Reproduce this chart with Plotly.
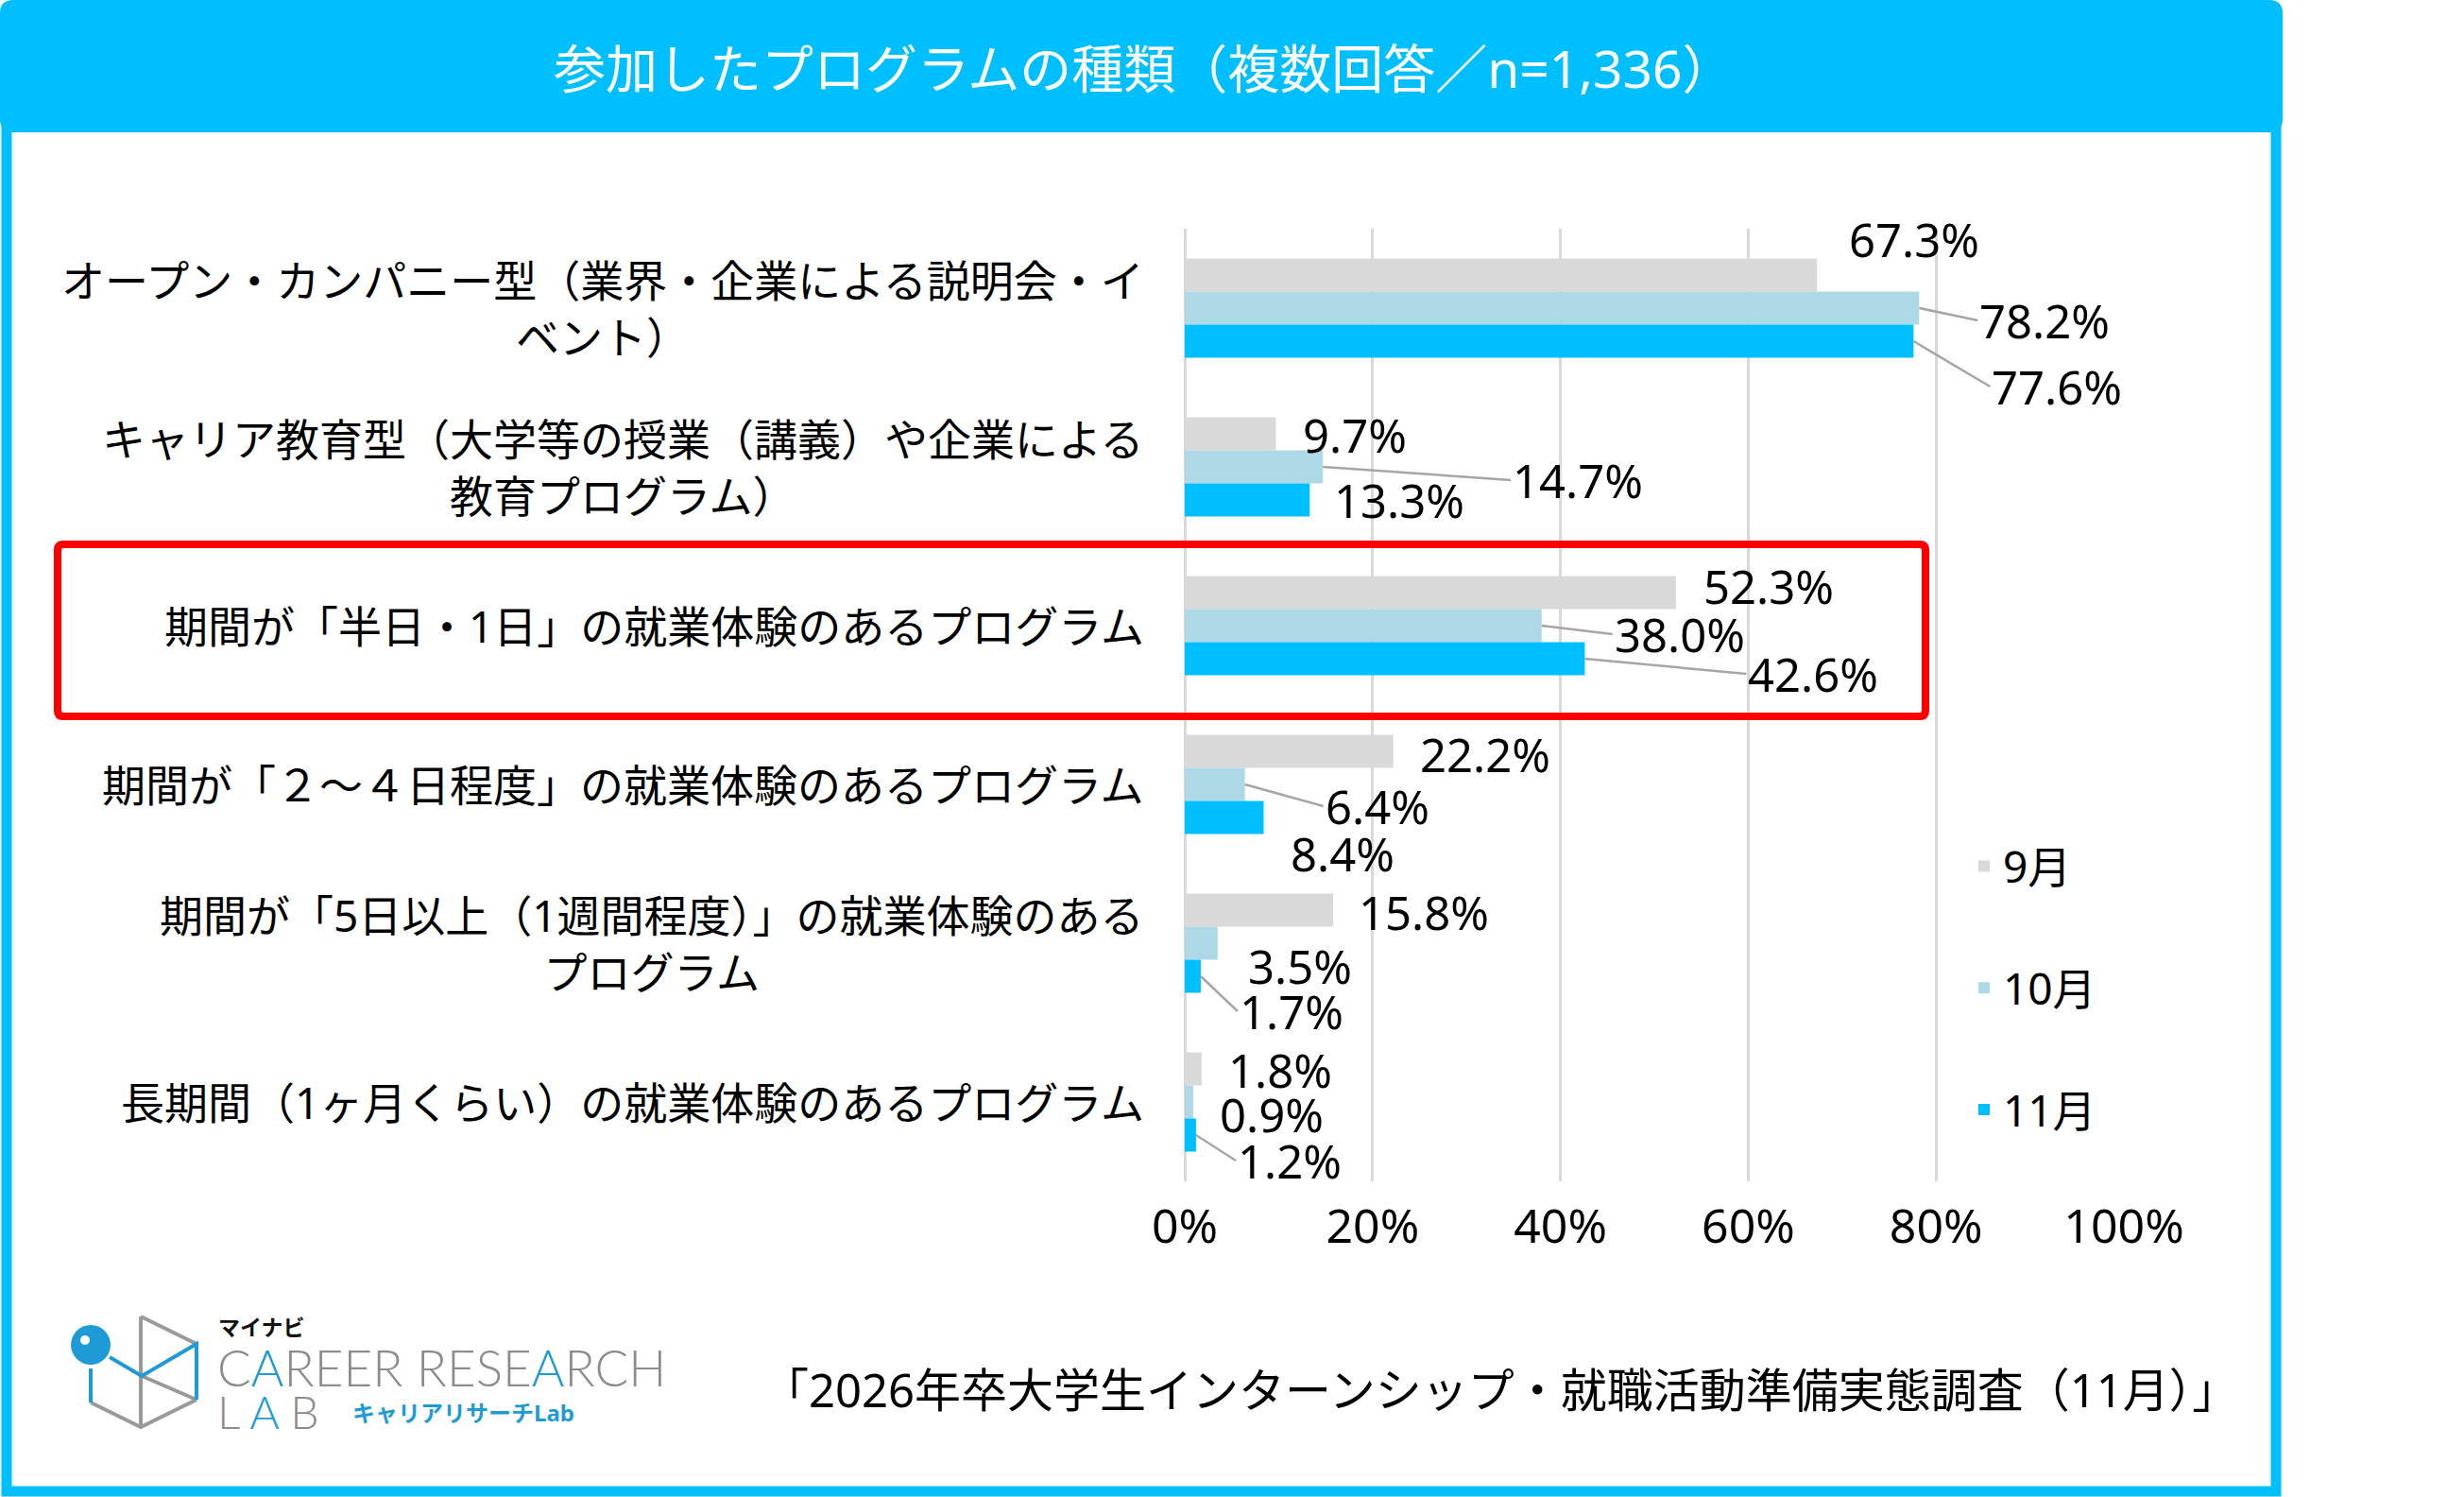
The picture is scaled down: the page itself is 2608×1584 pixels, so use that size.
import plotly.graph_objects as go

# ---------------- data ----------------
categories = [
    "オープン・カンパニー型（業界・企業による説明会・イ<br>ベント）",
    "キャリア教育型（大学等の授業（講義）や企業による<br>教育プログラム）",
    "期間が「半日・1日」の就業体験のあるプログラム",
    "期間が「２～４日程度」の就業体験のあるプログラム",
    "期間が「5日以上（1週間程度）」の就業体験のある<br>プログラム",
    "長期間（1ヶ月くらい）の就業体験のあるプログラム",
]
series_names = ["9月", "10月", "11月"]
sep_values = [67.3, 9.7, 52.3, 22.2, 15.8, 1.8]
oct_values = [78.2, 14.7, 38.0, 6.4, 3.5, 0.9]
nov_values = [77.6, 13.3, 42.6, 8.4, 1.7, 1.2]
tick_values = [0, 20, 40, 60, 80, 100]
tick_labels = ["0%", "20%", "40%", "60%", "80%", "100%"]
title_text = "参加したプログラムの種類（複数回答／n=1,336）"
source_text = "「2026年卒大学生インターンシップ・就職活動準備実態調査（11月）」"

# ---------------- style ----------------
W, H = 2608, 1584
series_colors = ["#D9D9D9", "#ADD8E6", "#00BFFF"]
FRAME = "#00BFFF"
LOGO_BLUE = "#1E9BD7"
LOGO_GRAY = "#9A9A9A"
FONT = "Noto Sans, Noto Sans CJK JP, sans-serif"
BARGAP = 0.375

# label offsets in px from bar end (dx right, dy down) and whether a leader line is drawn
label_offsets = [
    [(36, -38, False), (31, 1, False), (31, -7, False), (30, 3, False), (29, 2, False), (30, 1, False)],
    [(66, 13, True), (203, 14, True), (79, 9, True), (87, 23, True), (34, 24, False), (30, 13, False)],
    [(85, 48, True), (28, 0, False), (175, 16, True), (30, 38, False), (43, 37, True), (46, 27, True)],
]


def px(x):
    return x / W


def py(y):
    return 1 - y / H


def rounded_path(x0, y0, x1, y1, r):
    pts = [
        ("M", [(x0 + r, y0)]), ("L", [(x1 - r, y0)]), ("Q", [(x1, y0), (x1, y0 + r)]),
        ("L", [(x1, y1 - r)]), ("Q", [(x1, y1), (x1 - r, y1)]), ("L", [(x0 + r, y1)]),
        ("Q", [(x0, y1), (x0, y1 - r)]), ("L", [(x0, y0 + r)]), ("Q", [(x0, y0), (x0 + r, y0)]),
    ]
    s = ""
    for cmd, ps in pts:
        s += cmd + " " + " ".join(f"{px(a):.5f},{py(b):.5f}" for a, b in ps) + " "
    return s + "Z"


def poly_path(points, close=False):
    s = "M " + " L ".join(f"{px(a):.5f},{py(b):.5f}" for a, b in points)
    return s + (" Z" if close else "")


fig = go.Figure()
all_values = [sep_values, oct_values, nov_values]
for name, vals, color in zip(series_names, all_values, series_colors):
    fig.add_trace(go.Bar(
        y=categories, x=vals, name=name, orientation="h",
        marker=dict(color=color, line=dict(width=0)),
        legendgroup=name, hoverinfo="x+name",
    ))

annotations = []
bw = (1 - BARGAP) / 3
for j, vals in enumerate(all_values):
    for i, v in enumerate(vals):
        dx, dy, leader = label_offsets[j][i]
        ypos = i + (j - 1) * bw
        base = dict(x=v, y=ypos, xref="x", yref="y", text=f"{v:.1f}%",
                    font=dict(family=FONT, size=49, color="#000000"),
                    xanchor="left", yanchor="middle")
        if leader:
            base.update(showarrow=True, arrowhead=0, arrowwidth=2.5, arrowcolor="#A6A6A6",
                        ax=dx - 4, ay=dy, standoff=0)
        else:
            base.update(showarrow=False, xshift=dx - 4, yshift=-dy)
        annotations.append(base)

for i, c in enumerate(categories):
    annotations.append(dict(x=px(1213), y=i, xref="paper", yref="y", text=c, showarrow=False,
                            xanchor="right", yanchor="middle", align="center",
                            font=dict(family=FONT, size=46, color="#000000")))

annotations.append(dict(x=px(1210), y=py(72), xref="paper", yref="paper", text=title_text,
                        showarrow=False, xanchor="center", yanchor="middle",
                        font=dict(family=FONT, size=55, color="#FFFFFF")))
annotations.append(dict(x=px(1588), y=py(1470), xref="paper", yref="paper", text=source_text,
                        showarrow=False, xanchor="center", yanchor="middle",
                        font=dict(family=FONT, size=49, color="#000000")))

# logo texts
blueA = f"<span style='color:{LOGO_BLUE}'>A</span>"
annotations.append(dict(x=px(229), y=py(1404), xref="paper", yref="paper", text="<b>マイナビ</b>",
                        showarrow=False, xanchor="left", yanchor="middle",
                        font=dict(family=FONT, size=23, color="#111111")))
annotations.append(dict(x=px(228), y=py(1446), xref="paper", yref="paper",
                        text=f"C{blueA}REER RESE{blueA}RCH",
                        showarrow=False, xanchor="left", yanchor="middle",
                        font=dict(family="Lato", size=53, color="#8C8C8C", weight=300)))
annotations.append(dict(x=px(228), y=py(1493), xref="paper", yref="paper", text=f"L {blueA} B",
                        showarrow=False, xanchor="left", yanchor="middle",
                        font=dict(family="Lato", size=48, color="#8C8C8C", weight=300)))
annotations.append(dict(x=px(371), y=py(1494), xref="paper", yref="paper", text="<b>キャリアリサーチLab</b>",
                        showarrow=False, xanchor="left", yanchor="middle",
                        font=dict(family=FONT, size=24, color=LOGO_BLUE)))

shapes = []
# outer frame
shapes.append(dict(type="rect", xref="paper", yref="paper", x0=px(7), x1=px(2409), y0=py(120), y1=py(1578),
                   line=dict(color=FRAME, width=11), fillcolor="rgba(0,0,0,0)", layer="below"))
# title bar
shapes.append(dict(type="path", xref="paper", yref="paper", path=rounded_path(0, 0, 2416, 140, 14),
                   fillcolor=FRAME, line=dict(width=0), layer="below"))
# red highlight box
shapes.append(dict(type="path", xref="paper", yref="paper", path=rounded_path(61, 576, 2038, 758, 6),
                   fillcolor="rgba(0,0,0,0)", line=dict(color="#FF0000", width=8), layer="above"))
# logo icon (open box)
TOP, RU, RL, BOT, LLo, MID = (149, 1393), (208, 1422), (208, 1481), (149, 1510), (96, 1484), (150, 1456)
for pts, col in [
    ([TOP, (149, 1510)], LOGO_GRAY),
    ([TOP, RU], LOGO_GRAY),
    ([MID, RL], LOGO_GRAY),
    ([RL, BOT, LLo], LOGO_GRAY),
    ([(96, 1448), LLo], LOGO_BLUE),
    ([(116, 1436), MID, RU, RL], LOGO_BLUE),
]:
    shapes.append(dict(type="path", xref="paper", yref="paper", path=poly_path(pts),
                       line=dict(color=col, width=4)))
shapes.append(dict(type="circle", xref="paper", yref="paper", x0=px(75), x1=px(117), y0=py(1402), y1=py(1444),
                   fillcolor=LOGO_BLUE, line=dict(width=0)))
shapes.append(dict(type="circle", xref="paper", yref="paper", x0=px(85), x1=px(95), y0=py(1413), y1=py(1423),
                   fillcolor="#FFFFFF", line=dict(width=0)))

fig.update_layout(
    width=W, height=H,
    margin=dict(l=0, r=0, t=0, b=0, pad=0, autoexpand=False),
    paper_bgcolor="#FFFFFF", plot_bgcolor="#FFFFFF",
    font=dict(family=FONT, color="#000000"),
    barmode="group", bargap=BARGAP, bargroupgap=0,
    xaxis=dict(domain=[px(1254), px(2248)], range=[0, 100], tickvals=tick_values, ticktext=tick_labels,
               showgrid=True, gridcolor="#D9D9D9", gridwidth=3,
               zeroline=True, zerolinecolor="#D9D9D9", zerolinewidth=3,
               showline=False, ticks="", ticklabelstandoff=14, automargin=False,
               tickfont=dict(family=FONT, size=50, color="#000000"), fixedrange=True),
    yaxis=dict(domain=[py(1250), py(242)], autorange="reversed", type="category", automargin=False,
               showticklabels=False, showgrid=False, zeroline=False, showline=False, fixedrange=True),
    showlegend=True,
    legend=dict(x=px(2080), xanchor="left", y=py(880), yanchor="top",
                traceorder="grouped", tracegroupgap=66, itemwidth=30,
                font=dict(family=FONT, size=46, color="#000000"), bgcolor="rgba(0,0,0,0)"),
    annotations=annotations,
    shapes=shapes,
)

fig.write_html("out.html", config={"displayModeBar": False},
               post_script="document.body.style.margin='0px';document.body.style.overflow='hidden';")
